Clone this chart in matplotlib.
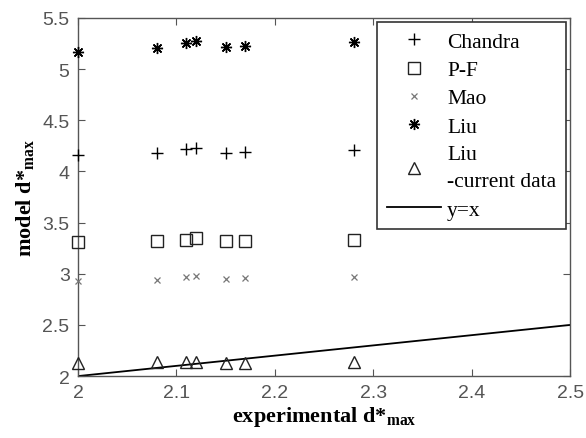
import numpy as np
import matplotlib
matplotlib.use('Agg')
import matplotlib.pyplot as plt

plt.rcParams['mathtext.fontset'] = 'custom'
plt.rcParams['mathtext.rm'] = 'Liberation Serif'
plt.rcParams['mathtext.bf'] = 'Liberation Serif:bold'

# experimental d*max values
exp_d = [2.0, 2.08, 2.11, 2.12, 2.15, 2.17, 2.28]

chandra = [4.16, 4.18, 4.22, 4.23, 4.18, 4.19, 4.21]
pf = [3.31, 3.32, 3.33, 3.35, 3.32, 3.32, 3.33]
mao = [2.93, 2.94, 2.97, 2.98, 2.95, 2.96, 2.97]
liu = [5.17, 5.21, 5.25, 5.27, 5.22, 5.23, 5.26]
liu_current = [2.13, 2.14, 2.14, 2.14, 2.13, 2.13, 2.14]

line_x = [2.0, 2.5]

fig, ax = plt.subplots(figsize=(5.86, 4.39), dpi=100)
fig.subplots_adjust(left=0.133, right=0.973, top=0.957, bottom=0.141)

kw = dict(ls='none', clip_on=False, zorder=3)
ax.plot(exp_d, chandra, marker='+', ms=9, mew=1.0, color='black', label='Chandra', **kw)
ax.plot(exp_d, pf, marker='s', ms=9, mew=1.0, mfc='none', mec='#222222', label='P-F', **kw)
ax.plot(exp_d, mao, marker='x', ms=5, mew=0.9, color='#777777', label='Mao', **kw)
ax.plot(exp_d, liu, marker=(8, 2, 0), ms=8, mew=1.0, color='black', label='Liu', **kw)
ax.plot(exp_d, liu_current, marker='^', ms=9, mew=1.0, mfc='none', mec='#222222',
        label='Liu\n-current data', **kw)
ax.plot(line_x, line_x, color='black', lw=1.3, label='y=x')

ax.set_xlim(2, 2.5)
ax.set_ylim(2, 5.5)
ax.set_xticks(np.arange(2, 2.51, 0.1))
ax.set_yticks(np.arange(2, 5.51, 0.5))
ax.set_xticklabels(['2', '2.1', '2.2', '2.3', '2.4', '2.5'])
ax.set_yticklabels(['2', '2.5', '3', '3.5', '4', '4.5', '5', '5.5'])

ax.tick_params(direction='in', top=True, right=True, length=5, width=0.8,
               labelsize=14, labelcolor='#555555', color='#555555', pad=6)
for lab in ax.get_xticklabels() + ax.get_yticklabels():
    lab.set_family('Liberation Sans')
for sp in ax.spines.values():
    sp.set_color('#555555')
    sp.set_linewidth(1.0)

ax.set_xlabel(r'experimental d*$_{\mathbf{max}}$', fontsize=16, fontweight='bold',
              family='Liberation Serif', labelpad=2)
ax.set_ylabel(r'model d*$_{\mathbf{max}}$', fontsize=16, fontweight='bold',
              family='Liberation Serif', labelpad=4)

leg = ax.legend(loc='upper right', fancybox=False, framealpha=1, edgecolor='#333333',
                prop={'family': 'Liberation Serif', 'size': 15.5}, borderaxespad=0.2,
                handlelength=2.5, labelspacing=0.38, borderpad=0.45, handletextpad=0.3)
for t in leg.get_texts():
    t.set_linespacing(1.6)
leg.get_frame().set_linewidth(1.2)

plt.savefig('out.png', dpi=100)
